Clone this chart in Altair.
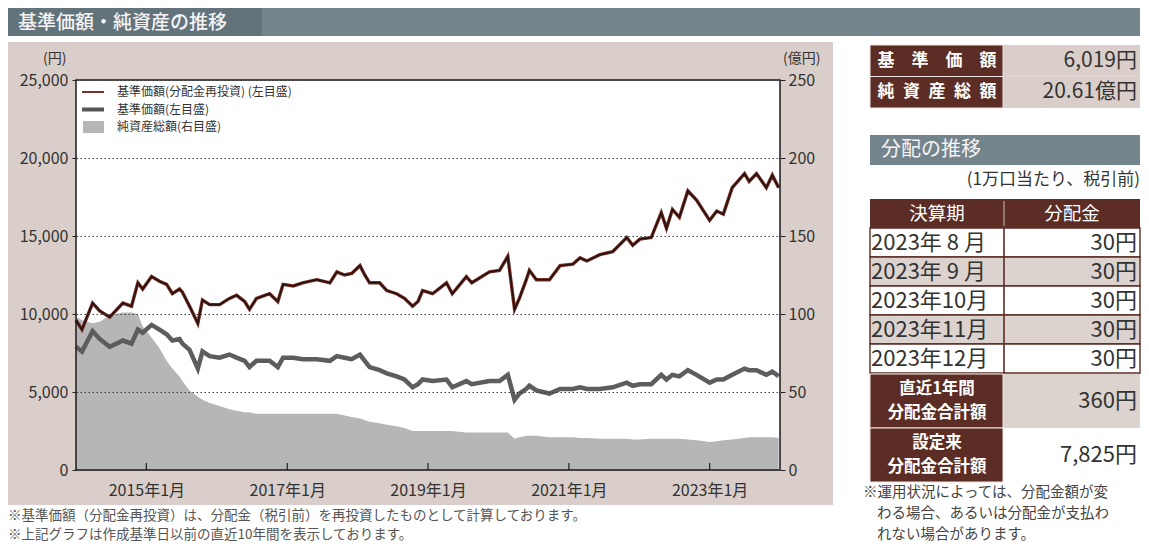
import altair as alt
import pandas as pd

# ---------------- data ----------------
dates = [
    "2014-01-01", "2014-02-01", "2014-03-28", "2014-05-04", "2014-06-25", "2014-09-01", "2014-10-16", "2014-11-18", "2014-12-13",
    "2015-01-28", "2015-03-10", "2015-04-16", "2015-05-16", "2015-06-22", "2015-07-07", "2015-08-13", "2015-09-25", "2015-10-19", "2015-11-25",
    "2016-01-16", "2016-03-07", "2016-04-13", "2016-05-25", "2016-06-19", "2016-07-25", "2016-10-01", "2016-11-13", "2016-12-10",
    "2017-02-01", "2017-03-22", "2017-06-03", "2017-08-10", "2017-09-15", "2017-10-25", "2017-12-01",
    "2018-01-13", "2018-02-07", "2018-03-04", "2018-04-25", "2018-06-01", "2018-07-22", "2018-09-01", "2018-10-13", "2018-11-10", "2018-12-04",
    "2019-01-25", "2019-04-07", "2019-05-07", "2019-07-19", "2019-08-16", "2019-11-16",
    "2020-01-07", "2020-02-19", "2020-03-25", "2020-04-19", "2020-05-25", "2020-06-10", "2020-07-16", "2020-09-22", "2020-11-16",
    "2021-01-22", "2021-02-28", "2021-04-04", "2021-06-10", "2021-08-16", "2021-10-28", "2021-11-28",
    "2022-01-04", "2022-03-04", "2022-04-25", "2022-05-22", "2022-06-22", "2022-07-28", "2022-09-10", "2022-10-25",
    "2023-01-01", "2023-02-07", "2023-03-13", "2023-04-28", "2023-07-01", "2023-07-25", "2023-09-01", "2023-10-22", "2023-11-22", "2023-12-25",
]
# 基準価額(分配金再投資) 円
reinvest = [
    9600, 9000, 10700, 10200, 9800, 10700, 10500, 12000, 11600,
    12400, 12100, 11900, 11300, 11600, 11400, 10500, 9400, 10900, 10600,
    10600, 11000, 11200, 10800, 10300, 11000, 11300, 10800, 11900,
    11800, 12000, 12200, 12000, 12700, 12500, 12600,
    13100, 12500, 12000, 12000, 11500, 11300, 11000, 10500, 10800, 11500,
    11300, 12000, 11300, 12400, 12000, 12700,
    12800, 13700, 10300, 11000, 12200, 12800, 12200, 12200, 13100,
    13200, 13600, 13400, 13800, 14000, 14900, 14400,
    14800, 14900, 16500, 15500, 16700, 16200, 17900, 17300,
    16000, 16600, 16400, 18100, 19000, 18500, 19000, 18100, 18900, 18100,
]
# 基準価額 円
nav = [
    7900, 7600, 8900, 8400, 7900, 8300, 8100, 9000, 8800,
    9300, 9000, 8700, 8300, 8400, 8100, 7700, 6500, 7600, 7300,
    7200, 7400, 7200, 7000, 6600, 7000, 7000, 6600, 7200,
    7200, 7100, 7100, 7000, 7300, 7200, 7100,
    7400, 7000, 6600, 6400, 6200, 6000, 5800, 5300, 5500, 5800,
    5700, 5800, 5300, 5700, 5500, 5700,
    5700, 6100, 4500, 4900, 5200, 5400, 5100, 4900, 5200,
    5200, 5300, 5200, 5200, 5300, 5600, 5400,
    5500, 5500, 6100, 5800, 6100, 6000, 6400, 6100,
    5600, 5800, 5800, 6100, 6500, 6400, 6400, 6100, 6300, 6019,
]
# 純資産総額 億円
net_assets = [
    98, 96, 94, 95, 99, 101, 101, 100, 92,
    85, 78, 70, 65, 60, 57, 51, 47, 45, 43,
    41, 39, 38, 37, 37, 36, 36, 36, 36,
    36, 36, 36, 36, 36, 35, 34,
    33, 32, 31, 30, 29, 28, 27, 25, 25, 25,
    25, 25, 25, 24, 24, 24,
    24, 24, 20, 21, 22, 22, 22, 21, 21,
    21, 20.5, 20.5, 20, 20, 20, 19.5,
    19.5, 20, 20, 20, 20, 20, 19.5, 19,
    18, 18.5, 19, 19.5, 20.5, 21, 21, 21, 21, 20.61,
]

x_range = ["2014-01-01", "2024-01-01"]
tick_dates = ["2015-01-01", "2017-01-01", "2019-01-01", "2021-01-01", "2023-01-01"]
left_ticks = [0, 5000, 10000, 15000, 20000, 25000]
right_ticks = [0, 50, 100, 150, 200, 250]

title_text = "基準価額・純資産の推移"
left_unit = "(円)"
right_unit = "(億円)"
legend_labels = ["基準価額(分配金再投資) (左目盛)", "基準価額(左目盛)", "純資産総額(右目盛)"]

info_labels = ["基\u3000準\u3000価\u3000額", "純\u2002資\u2002産\u2002総\u2002額"]
info_values = ["6,019円", "20.61億円"]

dist_title = "分配の推移"
dist_unit = "(1万口当たり、税引前)"
dist_header = ["決算期", "分配金"]
dist_periods = ["2023年 8 月", "2023年 9 月", "2023年10月", "2023年11月", "2023年12月"]
dist_amounts = ["30円", "30円", "30円", "30円", "30円"]
total_labels = ["直近1年間\n分配金合計額", "設定来\n分配金合計額"]
total_values = ["360円", "7,825円"]

notes_left = [
    "※基準価額（分配金再投資）は、分配金（税引前）を再投資したものとして計算しております。",
    "※上記グラフは作成基準日以前の直近10年間を表示しております。",
]
notes_right = [
    "※運用状況によっては、分配金額が変",
    "わる場合、あるいは分配金が支払わ",
    "れない場合があります。",
]

# ---------------- styling ----------------
FONT = "Noto Sans CJK JP"
DARK = "#5b2d25"
PANEL = "#d9cec9"
ROWB = "#dcd2ce"
SLATE = "#74848c"
SLATE_D = "#63737c"
TXT = "#333333"

W, H = 704, 390
SX0, SX1, SX2 = 794, 928, 1064

one = pd.DataFrame({"k": [0]})


def dt(s):
    t = pd.Timestamp(s)
    return alt.DateTime(year=t.year, month=t.month, date=t.day)


def deco_rect(x, x2, y, y2, color, **kw):
    return alt.Chart(one).mark_rect(color=color, **kw).encode(
        x=alt.value(x), x2=alt.value(x2), y=alt.value(y), y2=alt.value(y2))


def deco_rule(x, x2, y, y2, color, width):
    return alt.Chart(one).mark_rule(color=color, strokeWidth=width).encode(
        x=alt.value(x), x2=alt.value(x2), y=alt.value(y), y2=alt.value(y2))


def deco_text(x, y, text, **kw):
    kw.setdefault("font", FONT)
    return alt.Chart(one).mark_text(**kw).encode(
        x=alt.value(x), y=alt.value(y), text=alt.value(text))


ts = pd.DataFrame({"date": pd.to_datetime(dates), "reinvest": reinvest,
                   "nav": nav, "assets": net_assets})

x_scale = alt.Scale(domain=[dt(x_range[0]), dt(x_range[1])])
x_axis = alt.Axis(values=[dt(d) for d in tick_dates], format="%Y年%-m月", title=None,
                  ticks=False, domain=False, grid=False, labelFont=FONT, labelFontSize=16,
                  labelColor=TXT, labelPadding=12, zindex=1)
x_enc = alt.X("date:T", scale=x_scale, axis=x_axis)

yen_scale = alt.Scale(domain=[0, 25000])
left_axis = alt.Axis(orient="left", values=left_ticks, format=",d", title=left_unit,
                     titleAngle=0, titleX=-10, titleY=-22, titleAlign="right",
                     titleBaseline="middle", titleFont=FONT, titleFontSize=14,
                     titleFontWeight="normal", titleColor=TXT, labelFont=FONT,
                     labelFontSize=16, labelColor=TXT, labelPadding=4, tickSize=4,
                     tickColor="#222222", domain=False, grid=True, gridColor="#3a3a3a",
                     gridDash=[1.5, 2.5], gridWidth=1, zindex=1)
right_axis = alt.Axis(orient="right", values=right_ticks, title=right_unit,
                      titleAngle=0, titleX=40, titleY=-22, titleAlign="right",
                      titleBaseline="middle", titleFont=FONT, titleFontSize=14,
                      titleFontWeight="normal", titleColor=TXT, labelFont=FONT,
                      labelFontSize=16, labelColor=TXT, labelPadding=3, tickSize=5,
                      tickColor="#222222", domain=False, grid=False, zindex=1)

layers = []

# title bar
layers.append(deco_rect(-68, SX2, -72, -44, SLATE))
layers.append(deco_rect(-68, 186, -72, -44, SLATE_D))
layers.append(deco_text(-58, -57, title_text, align="left", baseline="middle",
                        fontSize=19, fontWeight=500, color="#f4f4f4"))

# chart panel
layers.append(deco_rect(-68, 757, -38, 425, PANEL))
layers.append(deco_rect(0, W, 0, H, "white"))

# series
layers.append(alt.Chart(ts).mark_area(color="#b5b6b8").encode(
    x=x_enc, y=alt.Y("assets:Q", scale=alt.Scale(domain=[0, 250]), axis=right_axis)))
layers.append(alt.Chart(ts).mark_line(color="#5d5d5d", strokeWidth=4.5).encode(
    x=x_enc, y=alt.Y("nav:Q", scale=yen_scale, axis=left_axis)))
layers.append(alt.Chart(ts).mark_line(color="#7a2e24", strokeWidth=3.4).encode(
    x=x_enc, y=alt.Y("reinvest:Q", scale=yen_scale, axis=None)))
layers.append(alt.Chart(ts).mark_line(color="#241210", strokeWidth=1.6).encode(
    x=x_enc, y=alt.Y("reinvest:Q", scale=yen_scale, axis=None)))

# inward x ticks
tick_df = pd.DataFrame({"date": pd.to_datetime(tick_dates)})
layers.append(alt.Chart(tick_df).mark_rule(color="#222222", strokeWidth=1.2).encode(
    x=x_enc, y=alt.value(H), y2=alt.value(H - 7)))

# frame
layers.append(alt.Chart(one).mark_rect(fill="white", fillOpacity=0, stroke="#1a1a1a",
                                       strokeWidth=1.5).encode(
    x=alt.value(0), x2=alt.value(W), y=alt.value(0), y2=alt.value(H)))

# legend
LEG_Y = [12, 29.5, 47]
layers.append(deco_rule(6, 28, LEG_Y[0], LEG_Y[0], "#7a3328", 2))
layers.append(deco_rule(6, 28, LEG_Y[1], LEG_Y[1], "#555555", 4))
layers.append(deco_rect(7, 28, LEG_Y[2] - 6, LEG_Y[2] + 6, "#b5b6b8"))
for i, lab in enumerate(legend_labels):
    layers.append(deco_text(41, LEG_Y[i], lab, align="left", baseline="middle",
                            fontSize=12, color=TXT))

# info boxes
info_df = pd.DataFrame({"row": list(range(len(info_labels))), "label": info_labels,
                        "value": info_values})
info_y = alt.Y("row:O", scale=alt.Scale(domain=list(range(len(info_labels))),
                                        range=[-35, 28], paddingInner=0, paddingOuter=0),
               axis=None)
ib = alt.Chart(info_df)
layers.append(ib.mark_rect(color=PANEL).encode(x=alt.value(SX1 - 1), x2=alt.value(SX2), y=info_y))
layers.append(ib.mark_rect(color=DARK, stroke="#eee6e2", strokeWidth=1).encode(
    x=alt.value(SX0), x2=alt.value(SX1 - 1), y=info_y))
layers.append(ib.mark_text(font=FONT, fontSize=17, fontWeight="bold", color="white").encode(
    x=alt.value((SX0 + SX1) / 2), y=info_y, text="label:N"))
layers.append(ib.mark_text(font=FONT, fontSize=21, color=TXT, align="right").encode(
    x=alt.value(SX2 - 3), y=info_y, text="value:N"))

# distribution title
layers.append(deco_rect(SX0, SX2, 55, 85, SLATE))
layers.append(deco_text(SX0 + 11, 70, dist_title, align="left", baseline="middle",
                        fontSize=20, color="#f4f4f4"))
layers.append(deco_text(SX2, 100, dist_unit, align="right", baseline="middle",
                        fontSize=17, color=TXT))

# header
layers.append(deco_rect(SX0, SX2, 119, 148, DARK))
layers.append(deco_rule(SX1, SX1, 121, 146, "#cbbfba", 1))
layers.append(deco_text((SX0 + SX1) / 2, 134, dist_header[0], baseline="middle",
                        fontSize=18.5, color="white"))
layers.append(deco_text((SX1 + SX2) / 2, 134, dist_header[1], baseline="middle",
                        fontSize=18.5, color="white"))

# monthly rows
rows_df = pd.DataFrame({"row": list(range(len(dist_periods))), "period": dist_periods,
                        "amount": dist_amounts})
row_y = alt.Y("row:O", scale=alt.Scale(domain=list(range(len(dist_periods))),
                                       range=[148, 293], paddingInner=0, paddingOuter=0),
              axis=None)
shade_scale = alt.Scale(domain=["w", "b"], range=["#ffffff", ROWB])
rb = alt.Chart(rows_df).transform_calculate(shade="datum.row % 2 == 0 ? 'w' : 'b'")
layers.append(rb.mark_rect(stroke=DARK, strokeWidth=1.4).encode(
    x=alt.value(SX0), x2=alt.value(SX2), y=row_y,
    fill=alt.Fill("shade:N", scale=shade_scale, legend=None)))
layers.append(rb.mark_text(font=FONT, fontSize=22, color=TXT, align="left").encode(
    x=alt.value(SX0 + 1), y=row_y, text="period:N"))
layers.append(rb.mark_text(font=FONT, fontSize=22, color=TXT, align="right").encode(
    x=alt.value(SX2 - 3), y=row_y, text="amount:N"))
layers.append(deco_rule(SX1, SX1, 148, 293, DARK, 1.6))

# totals
tot_df = pd.DataFrame({"row": list(range(len(total_labels))), "label": total_labels,
                       "value": total_values})
tot_y = alt.Y("row:O", scale=alt.Scale(domain=list(range(len(total_labels))),
                                       range=[294, 402], paddingInner=0, paddingOuter=0),
              axis=None)
tb = alt.Chart(tot_df).transform_calculate(shade="datum.row % 2 == 0 ? 'b' : 'w'")
layers.append(tb.mark_rect().encode(
    x=alt.value(SX1 - 1), x2=alt.value(SX2), y=tot_y,
    fill=alt.Fill("shade:N", scale=shade_scale, legend=None)))
layers.append(tb.mark_rect(color=DARK, stroke="#eee6e2", strokeWidth=1).encode(
    x=alt.value(SX0), x2=alt.value(SX1 - 1), y=tot_y))
layers.append(tb.mark_text(font=FONT, fontSize=16.5, fontWeight="bold", color="white",
                           lineBreak="\n", lineHeight=24, baseline="middle", dy=-12).encode(
    x=alt.value((SX0 + SX1) / 2), y=tot_y, text="label:N"))
layers.append(tb.mark_text(font=FONT, fontSize=22, color=TXT, align="right").encode(
    x=alt.value(SX2 - 3), y=tot_y, text="value:N"))

# notes
for i, t in enumerate(notes_right):
    layers.append(deco_text(787 if i == 0 else 801, 413 + 21 * i, t, align="left",
                            baseline="middle", fontSize=14.5, color="#444444"))
for i, t in enumerate(notes_left):
    layers.append(deco_text(-68, 436 + 19 * i, t, align="left", baseline="middle",
                            fontSize=13.5, color="#555555"))

chart = alt.layer(*layers).resolve_scale(y="independent").properties(
    width=W, height=H, padding=0, background="white",
    autosize=alt.AutoSizeParams(type="pad"),
).configure_view(strokeWidth=0)

chart.save("out.html", embed_options={"renderer": "svg", "actions": False})
